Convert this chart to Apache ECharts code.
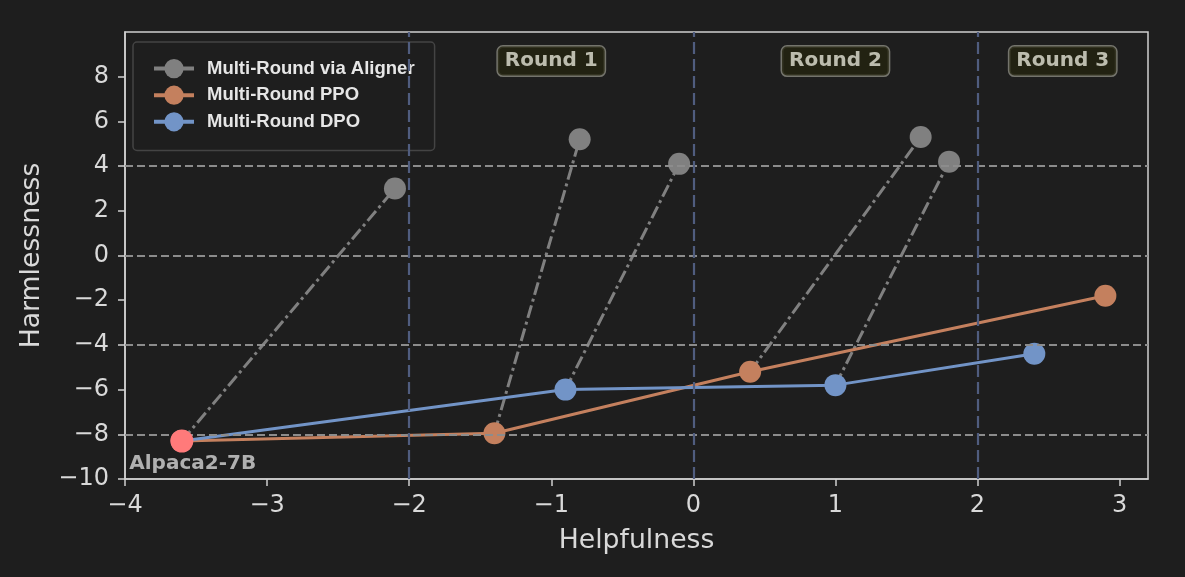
<!DOCTYPE html>
<html>
<head>
<meta charset="utf-8">
<script src="https://cdn.jsdelivr.net/npm/echarts@6/dist/echarts.min.js"></script>
<style>
html,body{margin:0;padding:0;background:#1e1e1e;}
#c{width:1185px;height:577px;}
</style>
</head>
<body>
<div id="c"></div>
<script>
// ---- data ----
const baseName = 'Alpaca2-7B';
const baseX = -3.6, baseY = -8.3;
const ppoX = [-3.6, -1.4, 0.4, 2.9];
const ppoY = [-8.3, -7.95, -5.2, -1.8];
const dpoX = [-3.6, -0.9, 1.0, 2.4];
const dpoY = [-8.3, -6.0, -5.8, -4.4];
const alignerStartX = [-3.6, -1.4, -0.9, 0.4, 1.0];
const alignerStartY = [-8.3, -7.95, -6.0, -5.2, -5.8];
const alignerEndX = [-2.1, -0.8, -0.1, 1.6, 1.8];
const alignerEndY = [3.0, 5.2, 4.1, 5.3, 4.2];
const roundNames = ['Round 1', 'Round 2', 'Round 3'];
const roundX = [-1.0, 1.0, 2.6];
const roundY = 8.7;
const roundDividers = [-2, 0, 2];
const refLinesY = [4, 0, -4, -8];
const baseLabelX = -3.97, baseLabelY = -9.3;
const seriesNames = ['Multi-Round via Aligner', 'Multi-Round PPO', 'Multi-Round DPO'];

// ---- styles ----
const GRAY = '#808080', ORANGE = '#c4805e', BLUE = '#7294c7', RED = '#ff7a7a';
const TXT = '#d9d9d9';
const LW = 3;
const minus = v => (v < 0 ? '\u2212' + Math.abs(v) : String(v));

const series = [];
// reference lines
series.push({
  type: 'line', data: [], silent: true, z: 1,
  markLine: {
    silent: true, symbol: 'none', label: {show: false},
    data: refLinesY.map(y => ({yAxis: y, lineStyle: {color: '#8c8c8c', width: 1.8, type: [8, 4]}}))
      .concat(roundDividers.map(x => ({xAxis: x, lineStyle: {color: '#505d7f', width: 2.2, type: [12, 5]}})))
  }
});
// aligner segments
alignerStartX.forEach((sx, i) => {
  series.push({
    name: seriesNames[0], type: 'line', z: 2,
    symbol: 'circle', symbolSize: 22,
    itemStyle: {color: GRAY},
    lineStyle: {color: GRAY, width: LW, type: [13, 4, 3, 4]},
    data: [{value: [sx, alignerStartY[i]], symbol: 'none'}, [alignerEndX[i], alignerEndY[i]]]
  });
});
series.push({
  name: seriesNames[1], type: 'line', z: 3, symbol: 'circle', symbolSize: 22,
  itemStyle: {color: ORANGE}, lineStyle: {color: ORANGE, width: LW},
  data: ppoX.map((x, i) => [x, ppoY[i]])
});
series.push({
  name: seriesNames[2], type: 'line', z: 3, symbol: 'circle', symbolSize: 22,
  itemStyle: {color: BLUE}, lineStyle: {color: BLUE, width: LW},
  data: dpoX.map((x, i) => [x, dpoY[i]])
});
series.push({
  type: 'scatter', z: 6, symbolSize: 23, itemStyle: {color: RED, opacity: 1},
  data: [[baseX, baseY]]
});
series.push({
  type: 'scatter', z: 6, symbolSize: 0, silent: true,
  data: [[baseLabelX, baseLabelY]],
  label: {show: true, position: 'right', distance: 0, formatter: baseName,
    fontFamily: 'DejaVu Sans', fontWeight: 'bold', fontSize: 20, color: '#d4d4d4'}
});
series.push({
  type: 'scatter', z: 7, symbolSize: 0, silent: true,
  data: roundX.map((x, i) => ({value: [x, roundY], name: roundNames[i]})),
  label: {show: true, position: 'inside', formatter: p => p.name,
    fontFamily: 'DejaVu Sans', fontWeight: 'bold', fontSize: 20, color: '#e4e4d6',
    backgroundColor: '#23230f', borderColor: '#8a8a80', borderWidth: 1.5, borderRadius: 5,
    padding: [5, 7, 4, 7]}
});

const option = {
  backgroundColor: '#1e1e1e',
  animation: false,
  textStyle: {fontFamily: 'DejaVu Sans'},
  grid: {left: 125, right: 37, top: 32, bottom: 98, show: true, borderColor: '#d0d0d0', borderWidth: 1.5},
  legend: {
    data: seriesNames, orient: 'vertical', left: 133, top: 42,
    itemWidth: 40, itemHeight: 24, itemGap: 7.4,
    padding: [17, 20, 19, 19],
    backgroundColor: 'rgba(30,30,30,0.8)', borderColor: '#444', borderWidth: 1.5, borderRadius: 4,
    lineStyle: {width: 4, type: 'solid'},
    textStyle: {fontFamily: 'Liberation Sans', fontWeight: 'bold', fontSize: 18.5, color: '#e6e6e6', padding: [0, 0, 0, 8]}
  },
  xAxis: {
    type: 'value', min: -4, max: 3.2, interval: 1,
    name: 'Helpfulness', nameLocation: 'middle', nameGap: 49,
    nameTextStyle: {fontSize: 26.7, color: TXT, fontFamily: 'DejaVu Sans'},
    axisLine: {show: true, onZero: false, lineStyle: {color: '#d0d0d0', width: 1.5}},
    axisTick: {show: true, length: 7, lineStyle: {color: '#d0d0d0', width: 1.5}},
    axisLabel: {fontSize: 24, color: TXT, margin: 15, showMaxLabel: false, formatter: minus},
    splitLine: {show: false}
  },
  yAxis: {
    type: 'value', min: -10, max: 10, interval: 2,
    name: 'Harmlessness', nameLocation: 'middle', nameGap: 79,
    nameTextStyle: {fontSize: 26.7, color: TXT, fontFamily: 'DejaVu Sans'},
    axisLine: {show: true, onZero: false, lineStyle: {color: '#d0d0d0', width: 1.5}},
    axisTick: {show: true, length: 7, lineStyle: {color: '#d0d0d0', width: 1.5}},
    axisLabel: {fontSize: 24, color: TXT, margin: 16, showMaxLabel: false, formatter: minus},
    splitLine: {show: false}
  },
  series: series
};
const chart = echarts.init(document.getElementById('c'), null, {renderer: 'canvas'});
chart.setOption(option);
</script>
</body>
</html>
